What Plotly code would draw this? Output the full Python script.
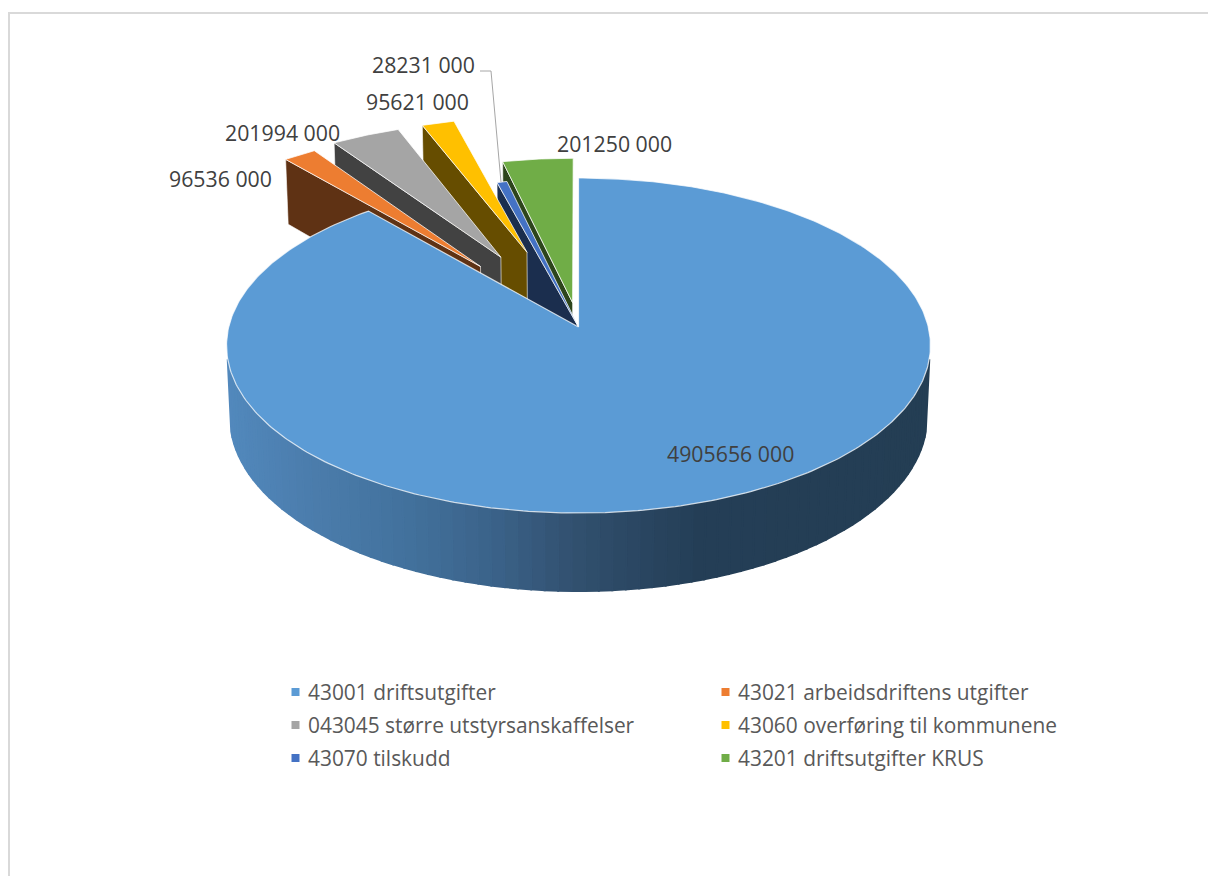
import numpy as np
import plotly.graph_objects as go

# ---- data ----
categories = ["43001 driftsutgifter", "43021 arbeidsdriftens utgifter",
              "043045 større utstyrsanskaffelser", "43060 overføring til kommunene",
              "43070 tilskudd", "43201 driftsutgifter KRUS"]
values = [4905656000, 96536000, 201994000, 95621000, 28231000, 201250000]
explode = [0.0, 0.48, 0.50, 0.50, 0.0, 0.15]
colors = ["#5B9BD5", "#ED7D31", "#A5A5A5", "#FFC000", "#4472C4", "#70AD47"]

# ---- layout constants (pixels on the page) ----
W, H = 1208, 876
CX, CY = 578.5, 327.0      # projected pie centre
A, B, D = 349.8, 165.5, 72.0  # plan x scale, plan y scale, thickness
K, M = 0.1105, 0.01        # perspective terms
LABEL_POS = [(730, 453), (220, 178), (282, 132), (417, 101), (423, 64), (614, 143)]
LEADER = "M 480 71 L 491 71 L 501 182"
LEGEND_X = [295.5, 725.5]
LEGEND_Y = [692, 725, 758]
TEXT_DX = 10.5
LABEL_FONT = dict(family="Open Sans", size=21.3, color="#404040")
LEGEND_FONT = dict(family="Open Sans", size=20.9, color="#595959")
# wall shading of the large slice: screen x -> colour
SHADE_X = [226, 300, 410, 500, 570, 640, 700, 940]
SHADE_R = [82, 76, 66, 58, 50, 42, 36, 36]
SHADE_G = [137, 126, 113, 97, 81, 70, 62, 62]
SHADE_B = [189, 174, 156, 135, 112, 97, 86, 84]


def project(u, v, z=0.0):
    w = 1 + K * v + M * z
    return CX + A * u / w, CY - (B * v - D * z) / w


def darker(hex_colour, f=0.4):
    r, g, b = (int(hex_colour[i:i + 2], 16) for i in (1, 3, 5))
    return f"rgb({r * f:.0f},{g * f:.0f},{b * f:.0f})"


fracs = np.array(values, dtype=float) / sum(values)
ends = np.cumsum(fracs) * 2 * np.pi
starts = ends - fracs * 2 * np.pi

fig = go.Figure()


def poly(x, y, fill, line="rgba(255,255,255,0)", width=0, name=None):
    fig.add_trace(go.Scatter(x=x, y=y, mode="lines", fill="toself", fillcolor=fill,
                             line=dict(color=line, width=width), name=name or "",
                             hoverinfo="name" if name else "skip", showlegend=False))


EDGE = "rgba(255,255,255,0.75)"

# slices painted back to front, the large one last
for i in [5, 4, 3, 2, 1]:
    s, e = starts[i], ends[i]
    mid = (s + e) / 2
    ou, ov = explode[i] * np.sin(mid), explode[i] * np.cos(mid)
    # radial wall on the left edge of the slice
    ru, rv = ou + np.sin(s), ov + np.cos(s)
    wx0, wy0 = project(np.array([ru, ou]), np.array([rv, ov]), 0.0)
    wx1, wy1 = project(np.array([ou, ru]), np.array([ov, rv]), 1.0)
    poly(np.r_[wx0, wx1, wx0[0]], np.r_[wy0, wy1, wy0[0]], darker(colors[i]), EDGE, 0.8)
    # top face
    t = np.linspace(s, e, 30)
    tx, ty = project(np.r_[ou, ou + np.sin(t), ou], np.r_[ov, ov + np.cos(t), ov])
    poly(tx, ty, colors[i], EDGE, 1, categories[i])

# curved wall of the large slice, as narrow shaded strips
th = np.linspace(np.radians(101), np.radians(259), 80)
for a, b in zip(th[:-1], th[1:]):
    x0, y0 = project(np.sin([a, b]), np.cos([a, b]), 0.0)
    x1, y1 = project(np.sin([b, a]), np.cos([b, a]), 1.0)
    xm = (x0.mean() + x1.mean()) / 2
    col = "rgb({:.0f},{:.0f},{:.0f})".format(np.interp(xm, SHADE_X, SHADE_R),
                                             np.interp(xm, SHADE_X, SHADE_G),
                                             np.interp(xm, SHADE_X, SHADE_B))
    poly(np.r_[x0, x1, x0[0]], np.r_[y0, y1, y0[0]], col, col, 2.0)

# top face of the large slice
t = np.linspace(starts[0], ends[0], 400)
tx, ty = project(np.r_[0.0, np.sin(t), 0.0], np.r_[0.0, np.cos(t), 0.0])
poly(tx, ty, colors[0], EDGE, 1.2, categories[0])

# legend drawn as square markers with real text
lx = [LEGEND_X[j % 2] for j in range(len(categories))]
ly = [LEGEND_Y[j // 2] for j in range(len(categories))]
fig.add_trace(go.Scatter(x=lx, y=ly, mode="markers", hoverinfo="skip", showlegend=False,
                         marker=dict(symbol="square", size=8, color=colors, line=dict(width=0))))

annotations = []
for v, (x, y) in zip(values, LABEL_POS):
    annotations.append(dict(x=x, y=y, xref="x", yref="y", showarrow=False, xanchor="center",
                            yanchor="middle", text=f"{v // 1000} {v % 1000:03d}", font=LABEL_FONT))
for c, x, y in zip(categories, lx, ly):
    annotations.append(dict(x=x + TEXT_DX, y=y, xref="x", yref="y", showarrow=False, xanchor="left",
                            yanchor="middle", text=c, font=LEGEND_FONT))

shapes = [
    dict(type="path", path=LEADER, xref="x", yref="y", line=dict(color="#A6A6A6", width=1)),
    dict(type="line", xref="x", yref="y", x0=9, x1=W, y0=13, y1=13, line=dict(color="#D9D9D9", width=2)),
    dict(type="line", xref="x", yref="y", x0=9, x1=9, y0=12, y1=H, line=dict(color="#D9D9D9", width=2)),
]

fig.update_layout(
    width=W, height=H, margin=dict(l=0, r=0, t=0, b=0),
    paper_bgcolor="white", plot_bgcolor="white", showlegend=False,
    xaxis=dict(range=[0, W], visible=False, fixedrange=True),
    yaxis=dict(range=[H, 0], visible=False, fixedrange=True),
    annotations=annotations, shapes=shapes,
)
fig.write_html("out.html", config={"displayModeBar": False},
               post_script="document.body.style.margin='0';document.documentElement.style.overflow='hidden';")
